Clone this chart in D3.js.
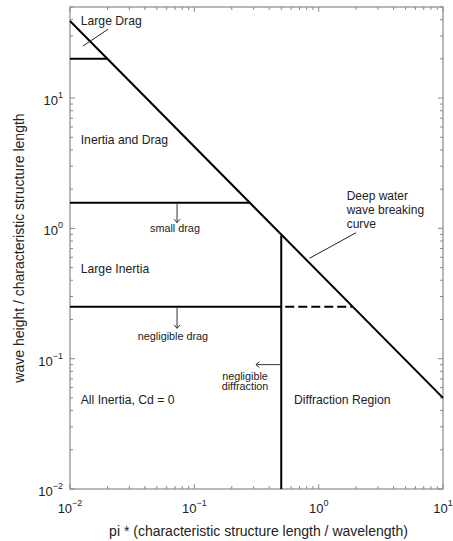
<!DOCTYPE html>
<html>
<head>
<meta charset="utf-8">
<script src="https://cdn.jsdelivr.net/npm/d3@7"></script>
<style>
  html, body { margin: 0; padding: 0; background: #fff; }
  svg { display: block; font-family: "Liberation Sans", Arial, Helvetica, sans-serif; }
</style>
</head>
<body>
<svg id="chart" width="453" height="541"></svg>
<script>
// ---- data ----
const xDomain = [0.01, 10];
const yDomain = [0.01, 50];
const xTickExps = [-2, -1, 0, 1];
const yTickExps = [-2, -1, 0, 1];
// deep water wave breaking curve (endpoints)
const breakingCurve = [[0.01, 39], [10, 0.05]];
// region boundaries: [x1, y1, x2, y2]
const solidBoundaries = [
  [0.01, 20, 0.0202, 20],      // large drag / inertia and drag
  [0.01, 1.57, 0.28, 1.57],    // inertia and drag / large inertia
  [0.01, 0.25, 0.5, 0.25],     // large inertia / all inertia
  [0.5, 0.01, 0.5, 0.88]       // diffraction limit
];
const dashedBoundaries = [
  [0.5, 0.25, 1.85, 0.25]
];
// region labels: [text, x, y] (x = left start, y = baseline)
const regionLabels = [
  ["Large Drag", 0.0122, 36.1],
  ["Inertia and Drag", 0.0122, 4.48],
  ["Large Inertia", 0.0122, 0.451],
  ["All Inertia, Cd = 0", 0.0122, 0.0453],
  ["Diffraction Region", 0.633, 0.0453]
];
// small centered notes: [text, x, y]
const noteLabels = [
  ["small drag", 0.0699, 0.942],
  ["negligible drag", 0.0673, 0.140],
  ["negligible", 0.2556, 0.0692],
  ["diffraction", 0.2556, 0.0573]
];
const curveLabel = ["Deep water", "wave breaking", "curve"];
const curveLabelPos = [1.68, 1.65];
// arrows: [x1, y1, x2, y2] tip at (x2, y2)
const arrows = [
  [0.0726, 1.57, 0.0726, 1.106],
  [0.0726, 0.25, 0.0726, 0.171],
  [0.5, 0.090, 0.313, 0.090]
];
// pointer lines
const pointers = [
  [0.0127, 25.1, 0.0202, 33.7],
  [2.0, 0.927, 0.842, 0.589]
];

// ---- layout ----
const W = 453, H = 541;
const margin = { left: 70, top: 7, right: 10, bottom: 52 };
const pw = W - margin.left - margin.right;
const ph = H - margin.top - margin.bottom;

const svg = d3.select("#chart");
const g = svg.append("g").attr("transform", `translate(${margin.left},${margin.top})`);

const x = d3.scaleLog().domain(xDomain).range([0, pw]);
const y = d3.scaleLog().domain(yDomain).range([ph, 0]);

const axisColor = "#8a8a8a";
const textColor = "#222";

// minor + major ticks
function tickValues(dom) {
  const vals = [];
  const lo = Math.floor(Math.log10(dom[0])), hi = Math.ceil(Math.log10(dom[1]));
  for (let e = lo; e <= hi; e++) {
    for (let m = 1; m <= 9; m++) {
      const v = m * Math.pow(10, e);
      if (v >= dom[0] * 0.999 && v <= dom[1] * 1.001) vals.push({ v, major: m === 1 });
    }
  }
  return vals;
}
const xt = tickValues(xDomain), yt = tickValues(yDomain);

const tickG = g.append("g").attr("stroke", axisColor).attr("stroke-width", 1);
xt.forEach(t => {
  const L = t.major ? 5 : 3;
  const px = x(t.v);
  tickG.append("line").attr("x1", px).attr("x2", px).attr("y1", ph).attr("y2", ph - L);
  tickG.append("line").attr("x1", px).attr("x2", px).attr("y1", 0).attr("y2", L);
});
yt.forEach(t => {
  const L = t.major ? 5 : 3;
  const py = y(t.v);
  tickG.append("line").attr("x1", 0).attr("x2", L).attr("y1", py).attr("y2", py);
  tickG.append("line").attr("x1", pw).attr("x2", pw - L).attr("y1", py).attr("y2", py);
});

// frame
g.append("rect").attr("x", 0).attr("y", 0).attr("width", pw).attr("height", ph)
  .attr("fill", "none").attr("stroke", axisColor).attr("stroke-width", 1.2);

// tick labels
function powLabel(sel, e) {
  sel.append("tspan").text("10");
  sel.append("tspan").attr("font-size", 9).attr("dy", -7).text(e === 0 || e > 0 ? String(e) : "\u2212" + Math.abs(e));
}
xTickExps.forEach(e => {
  const t = g.append("text").attr("x", x(Math.pow(10, e))).attr("y", ph + 24)
    .attr("text-anchor", "middle").attr("font-size", 13).attr("fill", textColor);
  powLabel(t, e);
});
yTickExps.forEach(e => {
  const t = g.append("text").attr("x", -7).attr("y", y(Math.pow(10, e)) + 7)
    .attr("text-anchor", "end").attr("font-size", 13).attr("fill", textColor);
  powLabel(t, e);
});

// axis titles
svg.append("text").attr("x", margin.left + pw / 2 + 2).attr("y", 536)
  .attr("text-anchor", "middle").attr("font-size", 14).attr("fill", textColor)
  .text("pi * (characteristic structure length / wavelength)");
svg.append("text").attr("transform", `translate(24,${margin.top + ph / 2}) rotate(-90)`)
  .attr("text-anchor", "middle").attr("font-size", 14).attr("fill", textColor)
  .text("wave height / characteristic structure length");

// breaking curve
const line = d3.line().x(d => x(d[0])).y(d => y(d[1]));
g.append("path").datum(breakingCurve).attr("d", line)
  .attr("fill", "none").attr("stroke", "#000").attr("stroke-width", 2);

// boundaries
g.selectAll("line.solid").data(solidBoundaries).enter().append("line")
  .attr("x1", d => x(d[0])).attr("y1", d => y(d[1]))
  .attr("x2", d => x(d[2])).attr("y2", d => y(d[3]))
  .attr("stroke", "#000").attr("stroke-width", 2);
g.selectAll("line.dashed").data(dashedBoundaries).enter().append("line")
  .attr("x1", d => x(d[0]) + 4).attr("y1", d => y(d[1]))
  .attr("x2", d => x(d[2])).attr("y2", d => y(d[3]))
  .attr("stroke", "#000").attr("stroke-width", 2).attr("stroke-dasharray", "9,4");

// arrows
arrows.forEach(a => {
  const x1 = x(a[0]), y1 = y(a[1]), x2 = x(a[2]), y2 = y(a[3]);
  g.append("line").attr("x1", x1).attr("y1", y1).attr("x2", x2).attr("y2", y2)
    .attr("stroke", "#333").attr("stroke-width", 1);
  const ang = Math.atan2(y2 - y1, x2 - x1);
  const s = 4.5, w = 0.7;
  const p1 = [x2 - s * Math.cos(ang - w), y2 - s * Math.sin(ang - w)];
  const p2 = [x2 - s * Math.cos(ang + w), y2 - s * Math.sin(ang + w)];
  g.append("path").attr("d", `M${p1}L${x2},${y2}L${p2}`)
    .attr("fill", "none").attr("stroke", "#333").attr("stroke-width", 1);
});

// pointers
g.selectAll("line.ptr").data(pointers).enter().append("line")
  .attr("x1", d => x(d[0])).attr("y1", d => y(d[1]))
  .attr("x2", d => x(d[2])).attr("y2", d => y(d[3]))
  .attr("stroke", "#222").attr("stroke-width", 1);

// labels
g.selectAll("text.region").data(regionLabels).enter().append("text")
  .attr("x", d => x(d[1])).attr("y", d => y(d[2]))
  .attr("font-size", 12.2).attr("fill", textColor).text(d => d[0]);
g.selectAll("text.note").data(noteLabels).enter().append("text")
  .attr("x", d => x(d[1])).attr("y", d => y(d[2]))
  .attr("text-anchor", "middle").attr("font-size", 10.8).attr("fill", textColor).text(d => d[0]);
const cl = g.append("text").attr("x", x(curveLabelPos[0])).attr("y", y(curveLabelPos[1]))
  .attr("font-size", 12).attr("fill", textColor);
curveLabel.forEach((s, i) => {
  cl.append("tspan").attr("x", x(curveLabelPos[0])).attr("dy", i === 0 ? 0 : 14).text(s);
});
</script>
</body>
</html>
